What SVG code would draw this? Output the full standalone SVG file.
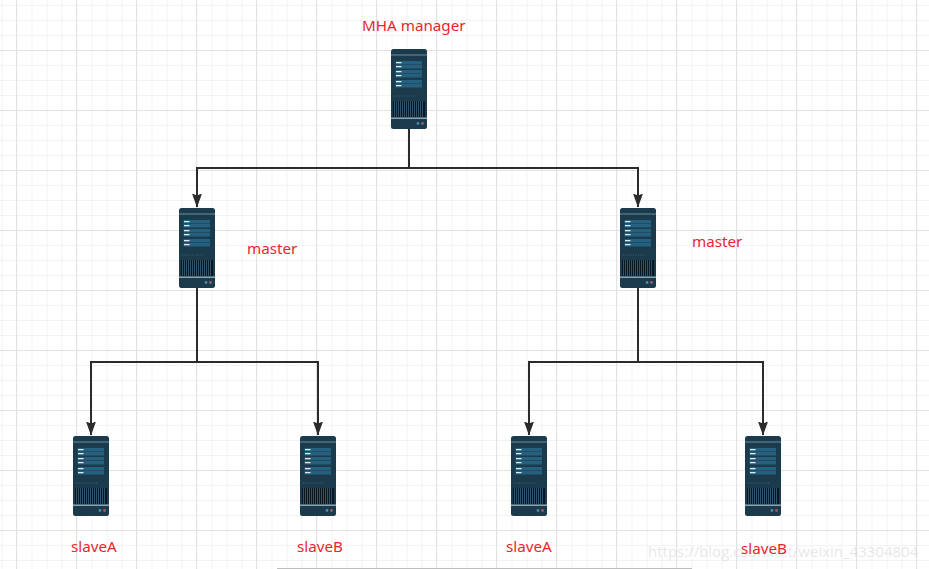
<svg xmlns="http://www.w3.org/2000/svg" width="929" height="569" viewBox="0 0 929 569">
<style>
.lbl{font-family:"Noto Sans","Open Sans",sans-serif;font-size:15.200px;fill:#e8262d}
.conn{fill:none;stroke:#2b2b2b;stroke-width:2}
.wm{font-family:"Open Sans","Noto Sans",sans-serif;font-size:15px;fill:#d8d8d8;fill-opacity:.6}
.row{fill:#25617f}
</style>
<defs>
<pattern id="minor" width="15" height="15" patternUnits="userSpaceOnUse" x="1.500" y="5">
<path d="M0.500 0V15M0 0.500H15" fill="none" stroke="#f3f3f3" stroke-width="1"/>
</pattern>
<pattern id="major" width="60" height="60" patternUnits="userSpaceOnUse" x="16" y="50">
<path d="M0.500 0V60M0 0.500H60" fill="none" stroke="#e2e2e2" stroke-width="1"/>
</pattern>
<marker id="arrow" viewBox="0 0 14 10" refX="13.500" refY="5" markerWidth="14" markerHeight="10" markerUnits="userSpaceOnUse" orient="auto">
<path d="M0 0L14 5L0 10L2 5Z" fill="#2b2b2b"/>
</marker>
<g id="server">
<rect width="36" height="80" rx="2.500" fill="#1b3a4b"/>
<rect x="0" y="5.500" width="36" height="1" fill="#6f8e9e"/>
<rect class="row" x="4.500" y="12" width="26.500" height="3.500"/>
<rect class="row" x="4.500" y="16" width="26.500" height="3.500"/>
<rect class="row" x="4.500" y="21" width="26.500" height="3.500"/>
<rect class="row" x="4.500" y="25" width="26.500" height="3.500"/>
<rect class="row" x="4.500" y="31" width="26.500" height="3.500"/>
<rect class="row" x="4.500" y="35" width="26.500" height="3.500"/>
<path d="M5 13.700H10.500M5 17.700H10.500M5 22.700H10.500M5 26.700H10.500M5 32.700H10.500M5 36.700H10.500" stroke="#dcecf4" stroke-width="1.300"/>
<path d="M3 47H25" stroke="#35566a" stroke-width="1.500" stroke-dasharray="1 1.500"/>
<rect x="2" y="52" width="32" height="16" fill="#081722"/>
<path d="M3.500 52V68M5.500 52V68M7.500 52V68M9.500 52V68M11.500 52V68M13.500 52V68M15.500 52V68M17.500 52V68M19.500 52V68M21.500 52V68M23.500 52V68M25.500 52V68M27.500 52V68M29.500 52V68M31.500 52V68" stroke="#2f5266" stroke-width="1"/>
<rect x="0" y="68.500" width="36" height="1.500" fill="#8aa3b0"/>
<circle cx="27" cy="74.500" r="1.400" fill="#4f8aa8"/>
<circle cx="31.500" cy="74.500" r="1.400" fill="#a05a68"/>
</g>
</defs>
<rect width="929" height="569" fill="#fff"/>
<rect id="grid-minor" width="929" height="569" fill="url(#minor)"/>
<rect id="grid-major" width="929" height="569" fill="url(#major)"/>
<text class="wm" x="648" y="557">https://blog.csdn.net/weixin_43304804</text>
<g id="connectors">
<path class="conn" marker-end="url(#arrow)" d="M409 129V168H197V207"/>
<path class="conn" marker-end="url(#arrow)" d="M409 129V168H638V207"/>
<path class="conn" marker-end="url(#arrow)" d="M197 288V362H91V435"/>
<path class="conn" marker-end="url(#arrow)" d="M197 288V362H318V435"/>
<path class="conn" marker-end="url(#arrow)" d="M638 288V362H529V435"/>
<path class="conn" marker-end="url(#arrow)" d="M638 288V362H763V435"/>
</g>
<g id="manager"><use href="#server" x="391" y="49"/><text class="lbl" x="362" y="31">MHA manager</text></g>
<g id="master-left"><use href="#server" x="179" y="208"/><text class="lbl" x="247" y="254">master</text></g>
<g id="master-right"><use href="#server" x="620" y="208"/><text class="lbl" x="692" y="247">master</text></g>
<g id="slave-a-left"><use href="#server" x="73" y="436"/><text class="lbl" x="71" y="552">slaveA</text></g>
<g id="slave-b-left"><use href="#server" x="300" y="436"/><text class="lbl" x="297" y="552">slaveB</text></g>
<g id="slave-a-right"><use href="#server" x="511" y="436"/><text class="lbl" x="506" y="552">slaveA</text></g>
<g id="slave-b-right"><use href="#server" x="745" y="436"/><text class="lbl" x="741" y="554">slaveB</text></g>
<rect id="scrollbar" x="277" y="568" width="415" height="1" fill="#bdbdbd"/>
</svg>
